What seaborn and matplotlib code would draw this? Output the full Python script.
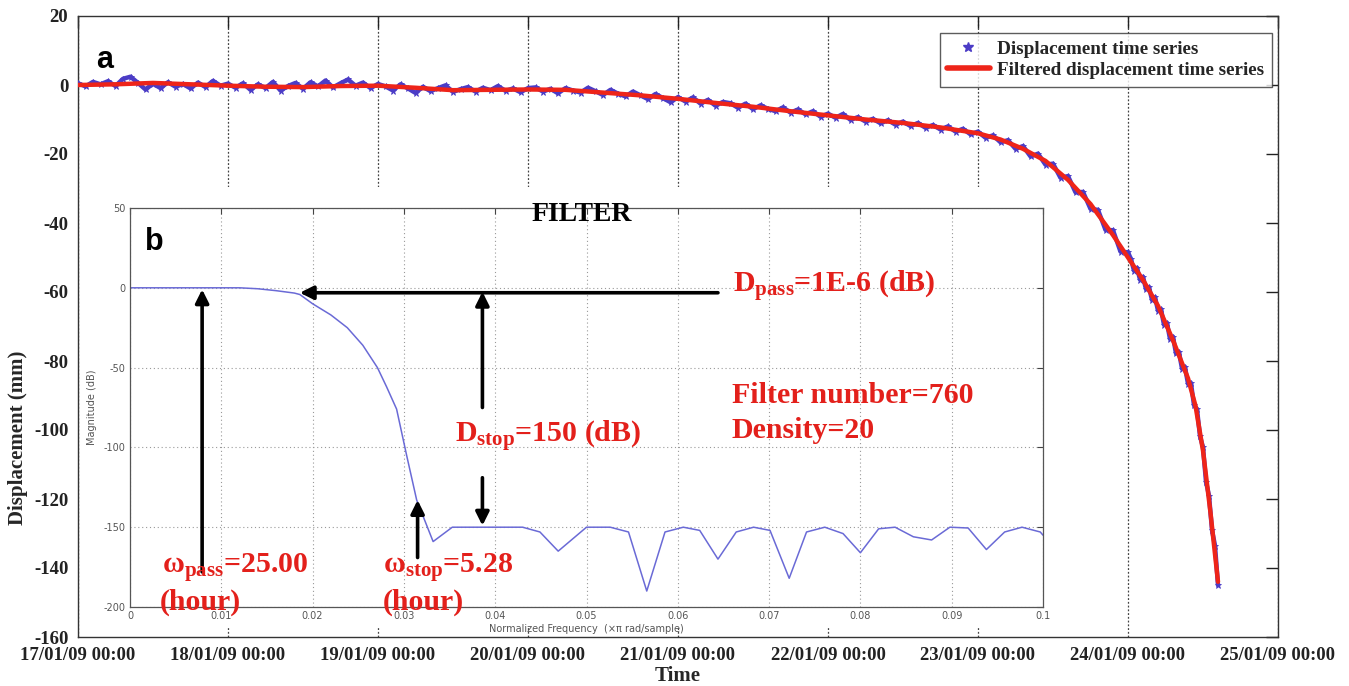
import numpy as np
import pandas as pd
import matplotlib
matplotlib.use("Agg")
import matplotlib.pyplot as plt
import seaborn as sns
from matplotlib.lines import Line2D
from matplotlib.patches import Rectangle

# ---------------- data ----------------
x_tick_labels = ["17/01/09 00:00", "18/01/09 00:00", "19/01/09 00:00", "20/01/09 00:00",
                 "21/01/09 00:00", "22/01/09 00:00", "23/01/09 00:00", "24/01/09 00:00",
                 "25/01/09 00:00"]
y_ticks = [20, 0, -20, -40, -60, -80, -100, -120, -140, -160]

# raw displacement samples (days since 17/01/09 00:00)
raw_days = np.concatenate([np.arange(0, 7.0001, 0.05), np.arange(7.02, 7.6001, 0.02)])
raw_disp = [0.5, -0.4, 0.9, 0.2, 1.1, -0.3, 1.8, 2.4, 0.6, -1.3, 0.4, -0.9, 0.8, -0.5, 0.3,
            -1.0, 0.7, -0.6, 1.2, -0.2, 0.4,
            -0.8, 0.5, -1.4, 0.2, -0.9, 0.9, -1.6, -0.3, 0.6, -1.1, 0.8, -0.4, 1.3, -0.7, 0.5,
            1.6, -0.2, 0.7, -0.9, 0.3,
            -0.4, -1.6, 0.2, -1.0, -2.3, -0.5, -1.8, -0.9, -0.1, -2.0, -1.2, -0.6, -1.9, -0.8,
            -1.5, -0.3, -1.7, -1.0, -2.1, -0.9,
            -0.7, -1.9, -1.1, -2.4, -0.9, -1.6, -2.2, -0.8, -1.8, -2.9, -1.4, -2.5, -3.3, -1.9,
            -3.0, -4.1, -2.6, -3.8, -5.0, -3.5,
            -4.8, -3.6, -5.4, -4.3, -6.0, -4.9, -5.3, -6.6, -5.4, -7.0, -5.9, -6.9, -7.6, -6.5,
            -8.0, -7.1, -8.5, -7.6, -9.2, -8.3,
            -9.5, -8.4, -10.1, -9.3, -10.6, -9.8, -11.1, -10.2, -11.5, -10.6, -11.9, -11.0,
            -12.4, -11.6, -12.9, -12.0, -13.5, -12.7, -14.3, -13.5,
            -15.3, -14.6, -16.6, -16.0, -18.5, -17.7, -20.7, -19.9, -23.1, -22.8, -26.9, -26.4,
            -31.1, -31.0, -35.9, -36.2, -42.0, -42.1, -48.3, -48.5,
            -50.5, -53.8, -53.0, -56.4, -55.6, -59.2, -58.6, -62.3, -61.5, -65.4, -65.0, -69.5,
            -69.0, -73.6, -73.0, -77.8, -77.5, -82.2, -81.8, -86.6, -86.5, -92.8, -94.0,
            -101.8, -105.0, -115.0, -119.0, -129.0, -133.5, -145.0]

# filtered displacement
filt_days = [0.0, 0.25, 0.5, 0.75, 1.0, 1.25, 1.5, 1.75, 2.0, 2.25, 2.5, 2.75, 3.0, 3.25, 3.5,
             3.75, 4.0, 4.25, 4.5, 4.75, 5.0, 5.25, 5.5, 5.75, 6.0, 6.15, 6.3, 6.45, 6.6, 6.75,
             6.9, 7.0, 7.1, 7.2, 7.3, 7.4, 7.45, 7.5, 7.55, 7.6]
filt_disp = [0.0, 0.2, 0.6, 0.2, -0.2, -0.5, -0.6, -0.3, -0.2, -0.8, -1.5, -1.4, -1.3, -1.4,
             -2.2, -3.0, -4.0, -5.2, -6.3, -7.6, -8.8, -10.0, -11.0, -12.3, -14.0, -15.8,
             -18.5, -22.0, -27.5, -34.5, -43.5, -50.0, -56.5, -64.0, -74.0, -85.0, -93.0,
             -106.0, -124.0, -144.0]

# filter magnitude response (inset b)
freq = [0.0, 0.012, 0.014, 0.016, 0.018, 0.0186, 0.020, 0.022, 0.0238, 0.0255, 0.0271, 0.0281,
        0.0292, 0.0303, 0.0314, 0.0332, 0.0353, 0.0430, 0.0449, 0.0469, 0.0500, 0.0526, 0.0546,
        0.0566, 0.0586, 0.0606, 0.0624, 0.0644, 0.0664, 0.0683, 0.0701, 0.0722, 0.0741, 0.0761,
        0.0781, 0.0800, 0.0820, 0.0838, 0.0858, 0.0878, 0.0898, 0.0918, 0.0938, 0.0958, 0.0977,
        0.0997, 0.1000]
mag = [0.0, 0.0, -0.6, -1.8, -3.3, -4.2, -10.0, -17.0, -25.0, -36.0, -50.0, -62.0, -76.0,
       -105.0, -133.0, -159.0, -150.0, -150.0, -153.0, -165.0, -150.0, -150.0, -153.0, -190.0,
       -153.0, -150.0, -152.0, -170.0, -153.0, -150.0, -152.0, -182.0, -153.0, -150.0, -154.0,
       -166.0, -151.0, -150.0, -156.0, -158.0, -150.0, -150.5, -164.0, -153.0, -150.0, -153.0,
       -155.0]
inset_x_ticks = [0, 0.01, 0.02, 0.03, 0.04, 0.05, 0.06, 0.07, 0.08, 0.09, 0.1]
inset_x_labels = ["0", "0.01", "0.02", "0.03", "0.04", "0.05", "0.06", "0.07", "0.08", "0.09", "0.1"]
inset_y_ticks = [50, 0, -50, -100, -150, -200]

# ---------------- style ----------------
sns.set_theme(style="white")
plt.rcParams["font.family"] = ["Liberation Serif", "DejaVu Serif"]
plt.rcParams["mathtext.fontset"] = "custom"
plt.rcParams["mathtext.rm"] = "Liberation Serif:bold"
plt.rcParams["mathtext.bf"] = "Liberation Serif:bold"
plt.rcParams["mathtext.it"] = "Liberation Serif:bold"

PURPLE = "#4b3cc6"
RED = "#ee2419"
TXTRED = "#e3201b"
W, H = 1349, 686

fig = plt.figure(figsize=(W / 100, H / 100), dpi=100)
fig.patch.set_facecolor("white")

# ---------------- main axes (a) ----------------
ax = fig.add_axes([78 / W, (H - 637) / H, 1200 / W, 621 / H])
df_raw = pd.DataFrame({"day": raw_days, "disp": raw_disp})
df_filt = pd.DataFrame({"day": filt_days, "disp": filt_disp})
sns.lineplot(data=df_raw, x="day", y="disp", sort=False, estimator=None, ax=ax,
             color=PURPLE, lw=3.2, marker="*", markersize=5, markeredgewidth=0.6,
             markeredgecolor=PURPLE, zorder=3, legend=False)
sns.lineplot(data=df_filt, x="day", y="disp", sort=False, estimator=None, ax=ax,
             color=RED, lw=3.2, zorder=4, legend=False)

ax.set_xlim(0, 8)
ax.set_ylim(-160, 20)
ax.set_xticks(range(len(x_tick_labels)))
ax.set_xticklabels(x_tick_labels, fontweight="bold", fontsize=13.5)
ax.set_yticks(y_ticks)
ax.set_yticklabels([str(v) for v in y_ticks], fontweight="bold", fontsize=13.5)
ax.tick_params(direction="in", length=8.5, width=1, top=True, right=True,
               colors="#222222", pad=7)
for s in ax.spines.values():
    s.set_color("#333333")
    s.set_linewidth(1.0)
ax.grid(axis="x", linestyle=(0, (1.5, 1.5)), color="#444444", lw=0.9)
ax.grid(axis="y", visible=False)
ax.set_xlabel("Time", fontsize=15, fontweight="bold")
ax.xaxis.set_label_coords(0.5, -0.046)
ax.xaxis.label.set_verticalalignment("top")
ax.set_ylabel("Displacement (mm)", fontsize=15, fontweight="bold")
ax.yaxis.label.set_verticalalignment("center")
ax.yaxis.set_label_coords(-0.05, 0.32)

# white backdrop behind the inset figure
ax.add_patch(Rectangle((0.012, 0.016), 0.806, 0.709, transform=ax.transAxes,
                       facecolor="white", edgecolor="none", zorder=1.5))

handles = [Line2D([], [], marker="*", ls="none", color=PURPLE, markersize=7),
           Line2D([], [], color=RED, lw=4)]
leg = ax.legend(handles, ["Displacement time series", "Filtered displacement time series"],
                loc="upper right", bbox_to_anchor=(0.995, 0.973), borderaxespad=0,
                frameon=True, fancybox=False, edgecolor="#333333",
                prop={"family": "Liberation Serif", "weight": "bold", "size": 13.8},
                handlelength=2.2, handletextpad=0.4, borderpad=0.4, labelspacing=0.2)
leg.get_frame().set_linewidth(1.0)
leg.set_zorder(6)

# ---------------- inset axes (b) ----------------
axi = fig.add_axes([130 / W, (H - 607) / H, 913 / W, 399 / H])
axi.set_facecolor("white")
sns.lineplot(x=freq, y=mag, ax=axi, color="#6a6ad6", lw=1.1, sort=False, estimator=None)
axi.set_xlim(0, 0.1)
axi.set_ylim(-200, 50)
axi.set_xticks(inset_x_ticks)
axi.set_xticklabels(inset_x_labels, family="DejaVu Sans", fontsize=7, color="#555555")
axi.set_yticks(inset_y_ticks)
axi.set_yticklabels([str(v) for v in inset_y_ticks], family="DejaVu Sans", fontsize=7,
                    color="#555555")
axi.tick_params(direction="in", length=4, width=0.8, top=True, right=True,
                colors="#444444", labelcolor="#555555", pad=3)
for s in axi.spines.values():
    s.set_color("#555555")
    s.set_linewidth(0.9)
axi.grid(True, linestyle=(0, (1, 2.5)), color="#999999", lw=0.8)
axi.set_xlabel("Normalized Frequency  (\u00d7\u03c0 rad/sample)", family="DejaVu Sans",
               fontsize=7, color="#555555", labelpad=2)
axi.set_ylabel("Magnitude (dB)", family="DejaVu Sans", fontsize=7, color="#555555",
               labelpad=5)

arrow_kw = dict(arrowstyle="-|>", color="black", lw=2.6, mutation_scale=20,
                shrinkA=0, shrinkB=0)
axi.annotate("", xy=(0.0079, -1.0), xytext=(0.0079, -178), arrowprops=arrow_kw)
axi.annotate("", xy=(0.0186, -3.1), xytext=(0.0644, -3.1), arrowprops=arrow_kw)
axi.annotate("", xy=(0.0386, -2.5), xytext=(0.0386, -75), arrowprops=arrow_kw)
axi.annotate("", xy=(0.0386, -149), xytext=(0.0386, -119), arrowprops=arrow_kw)
axi.annotate("", xy=(0.0315, -133), xytext=(0.0315, -169), arrowprops=arrow_kw)

tk = dict(color=TXTRED, fontsize=21.5, fontweight="bold", family="Liberation Serif",
          va="baseline", ha="left", clip_on=False, zorder=10)
axi.text(0.0661, -3.1, r"D$_{\mathbf{pass}}$=1E-6 (dB)", **tk)
axi.text(0.0356, -97.1, r"D$_{\mathbf{stop}}$=150 (dB)", **tk)
axi.text(0.0659, -72.0, "Filter number=760", **tk)
axi.text(0.0659, -94.0, "Density=20", **tk)
axi.text(0.0035, -178.6, "\u03c9" + r"$_{\mathbf{pass}}$=25.00", **tk)
axi.text(0.0033, -201.8, "(hour)", **tk)
axi.text(0.0277, -178.6, "\u03c9" + r"$_{\mathbf{stop}}$=5.28", **tk)
axi.text(0.0277, -201.8, "(hour)", **tk)

# panel labels and title
fig.text(532 / W, 1 - 221 / H, "FILTER", fontsize=20, fontweight="bold",
         family="Liberation Serif", color="black", va="baseline")
fig.text(96 / W, 1 - 68 / H, "a", fontsize=22, fontweight="bold",
         family="Liberation Sans", color="black", va="baseline")
fig.text(145 / W, 1 - 250 / H, "b", fontsize=22, fontweight="bold",
         family="Liberation Sans", color="black", va="baseline")

fig.savefig("out.png", dpi=100, facecolor="white")
